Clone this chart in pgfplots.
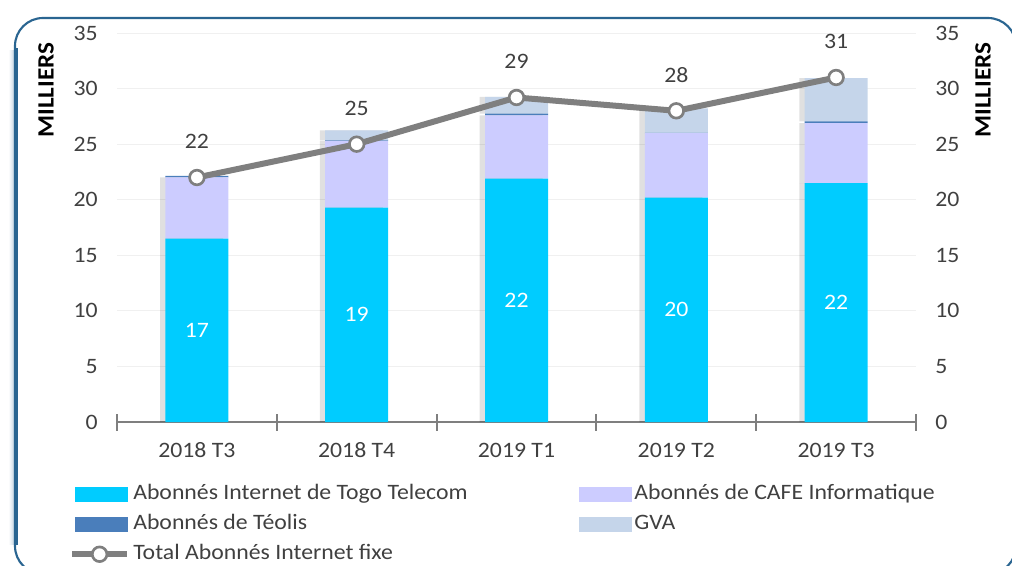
\documentclass[border=0pt]{standalone}
\usepackage{fontspec}
\setmainfont{Carlito}[FakeStretch=1.08]
\usepackage{pgfplots}
\usepackage{pgfplotstable}
\pgfplotsset{compat=1.18}
\definecolor{togo}{HTML}{00CCFF}
\definecolor{cafe}{HTML}{CCCCFF}
\definecolor{teolis}{HTML}{4A7EBB}
\definecolor{gva}{HTML}{C5D5EA}
\definecolor{linegray}{HTML}{7F7F7F}
\definecolor{frameblue}{HTML}{2A6591}
\definecolor{txt}{HTML}{404040}

\pgfplotstableread{
x togo cafe teolis gva total lab tlab
0 16.5 5.5 0.15 0.0 22.0 17 22
1 19.3 6.0 0.05 0.9 25.0 19 25
2 21.9 5.7 0.15 1.5 29.2 22 29
3 20.2 5.8 0.02 2.2 28.0 20 28
4 21.5 5.4 0.15 3.9 31.0 22 31
}\datatable

\pgfplotsset{
  swatch/.style={legend image code/.code={\fill[#1] (2.25pt,-5.6pt) rectangle (41pt,5.6pt);}},
  linelegend/.style={legend image code/.code={\draw[##1, mark repeat=2, mark phase=2] plot coordinates {(0pt,0pt) (20.5pt,0pt) (41pt,0pt)};}},
  shadowbar/.style={preaction={fill=black, opacity=0.12, transform canvas={xshift=-4pt}}},
  common/.style={
    at={(87.75pt,-316.5pt)}, anchor=south west,
    scale only axis, width=599.25pt, height=291.75pt,
    xmin=-0.5, xmax=4.5, ymin=0, ymax=35,
    ytick={0,5,...,35},
    major tick length=0pt,
    tick label style={font=\fontsize{16.5}{20}\selectfont, text=txt},
    /pgf/number format/assume math mode=true,
  },
}

\begin{document}
\begin{tikzpicture}
\useasboundingbox (0,0) rectangle (759pt,-423.75pt);
\clip (0,0) rectangle (759pt,-423.75pt);

\begin{scope}[x=0.75pt,y=-0.75pt]
  \foreach \o/\a in {1/0.25,2/0.18,3/0.12,4/0.07,5/0.04}{
    \draw[frameblue!60, opacity=\a, line width=1.5pt] (15-\o,50) -- (15-\o,545);
  }
  \draw[frameblue, line width=1.6pt, rounded corners=21pt] (15,18) rectangle (1016,574);
  \draw[frameblue, line width=2.2pt] (16.5,48) -- (16.5,545);
  \node[rotate=90, font=\bfseries\fontsize{17.5}{20}\selectfont, text=black] at (46,90) {MILLIERS};
  \node[rotate=90, font=\bfseries\fontsize{17.5}{20}\selectfont, text=black] at (983,90) {MILLIERS};
\end{scope}

\begin{axis}[
  common,
  ybar stacked, bar width=47.25pt,
  xtick={0,...,4},
  xticklabels={2018 T3,2018 T4,2019 T1,2019 T2,2019 T3},
  axis x line*=bottom, axis y line*=left,
  separate axis lines,
  x axis line style={draw=linegray, line width=2pt, -},
  y axis line style={draw=none},
  extra x ticks={-0.5,0.5,1.5,2.5,3.5,4.5},
  extra x tick labels={},
  extra x tick style={major tick length=12.75pt, tick align=center, tick style={draw=linegray, line width=1.5pt}},
  ymajorgrids, major grid style={draw=black!6, line width=0.75pt},
  yticklabel style={xshift=-11pt},
  xticklabel style={yshift=-12pt},
]
\addplot[fill=togo, draw=none, shadowbar] table[x=x,y=togo]\datatable;
\addplot[fill=cafe, draw=none, shadowbar] table[x=x,y=cafe]\datatable;
\addplot[fill=teolis, draw=none] table[x=x,y=teolis]\datatable;
\addplot[fill=gva, draw=none, shadowbar] table[x=x,y=gva]\datatable;
\end{axis}

\begin{axis}[
  common,
  axis x line=none, axis y line*=right,
  y axis line style={draw=none},
  yticklabel style={xshift=11pt},
  clip=false,
  legend columns=2,
  legend cell align=left,
  legend style={at={(rel axis cs:-0.0651,-0.149)}, anchor=north west, draw=none, fill=none,
    font=\fontsize{16.5}{20}\selectfont, text=txt,
    nodes={inner xsep=2.5pt, inner ysep=1pt, text height=11.5pt, text depth=3.5pt},
    row sep=5.5pt,
    /tikz/every odd column/.append style={column sep=0pt},
    /tikz/every even column/.append style={column sep=81pt}},
]
\addplot[draw=none, mark=none, forget plot, nodes near coords, point meta=explicit symbolic,
  every node near coord/.append style={anchor=center, text=white, font=\fontsize{16.5}{20}\selectfont}]
  table[x=x, y expr=\thisrow{togo}/2, meta=lab]\datatable;
\addlegendimage{swatch=togo}
\addlegendentry{Abonnés Internet de Togo Telecom}
\addlegendimage{swatch=cafe}
\addlegendentry{Abonnés de CAFE Informatique}
\addlegendimage{swatch=teolis}
\addlegendentry{Abonnés de Téolis}
\addlegendimage{swatch=gva}
\addlegendentry{GVA}
\addplot[linegray, line width=4.5pt, mark=*, mark size=5.5pt,
  mark options={fill=white, draw=linegray, line width=2pt}, linelegend,
  nodes near coords, point meta=explicit symbolic,
  every node near coord/.append style={anchor=center, yshift=27pt, text=txt, font=\fontsize{16.5}{20}\selectfont}]
  table[x=x, y=total, meta=tlab]\datatable;
\addlegendentry{Total Abonnés Internet fixe}
\end{axis}
\end{tikzpicture}
\end{document}
